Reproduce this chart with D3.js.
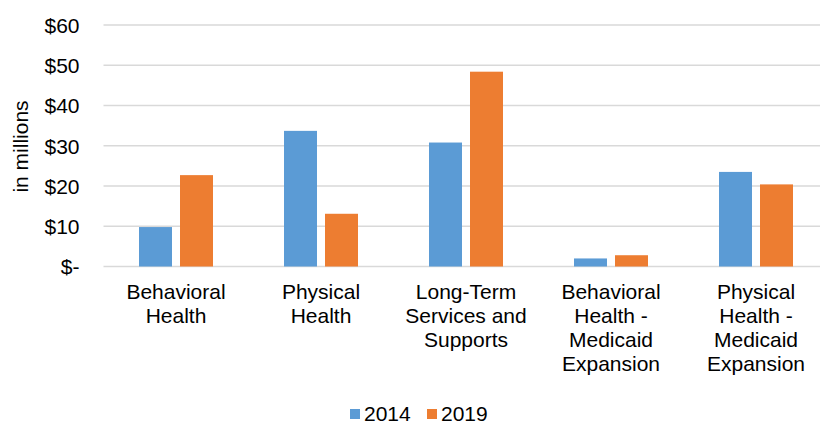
<!DOCTYPE html>
<html>
<head>
<meta charset="utf-8">
<script src="https://cdn.jsdelivr.net/npm/d3@7"></script>
<style>
  html, body { margin: 0; padding: 0; background: #fff; }
  svg { display: block; font-family: "Liberation Sans", Arial, sans-serif; }
</style>
</head>
<body>
<svg id="chart" width="820" height="424"></svg>
<script>
// Spending by program area, in millions of dollars
const categories = [
  ["Behavioral", "Health"],
  ["Physical", "Health"],
  ["Long-Term", "Services and", "Supports"],
  ["Behavioral", "Health -", "Medicaid", "Expansion"],
  ["Physical", "Health -", "Medicaid", "Expansion"]
];
const seriesNames = ["2014", "2019"];
const values2014 = [9.8, 33.7, 30.8, 2.0, 23.5];
const values2019 = [22.7, 13.1, 48.4, 2.8, 20.4];
const yTicks = [0, 10, 20, 30, 40, 50, 60];
const colors = ["#5B9BD5", "#ED7D31"];

const fontSize = 21;
const svg = d3.select("#chart");
const plotLeft = 103.5, plotRight = 828.5, plotTop = 25, plotBottom = 266.5;

const x = d3.scaleBand()
  .domain(d3.range(categories.length))
  .range([plotLeft, plotRight])
  .padding(0);

const inner = d3.scaleBand()
  .domain(seriesNames)
  .range([35.5, 109.5])
  .paddingInner(8 / 41)
  .paddingOuter(0);

const y = d3.scaleLinear().domain([0, 60]).range([plotBottom, plotTop]);

// Tick labels on the left
const yAxis = d3.axisLeft(y)
  .tickValues(yTicks)
  .tickSize(0)
  .tickPadding(0)
  .tickFormat(d => d === 0 ? "$-" : "$" + d);

const gAxis = svg.append("g")
  .attr("transform", `translate(${plotLeft},0)`)
  .call(yAxis);
gAxis.select(".domain").remove();
gAxis.selectAll("text")
  .attr("x", -24)
  .attr("dy", "0.35em")
  .attr("font-size", fontSize)
  .attr("font-family", "Liberation Sans, Arial, sans-serif")
  .attr("fill", "#000");

// Horizontal gridlines
svg.append("g")
  .selectAll("line")
  .data(yTicks)
  .join("line")
  .attr("x1", plotLeft)
  .attr("x2", 820)
  .attr("y1", d => y(d))
  .attr("y2", d => y(d))
  .attr("stroke", "#D9D9D9")
  .attr("stroke-width", 1.4);

// Bars
const rows = categories.map((c, i) => ({ i, vals: [values2014[i], values2019[i]] }));
const groups = svg.append("g")
  .selectAll("g")
  .data(rows)
  .join("g")
  .attr("transform", d => `translate(${x(d.i)},0)`);

groups.selectAll("rect")
  .data(d => d.vals.map((v, k) => ({ v, k })))
  .join("rect")
  .attr("x", d => inner(seriesNames[d.k]))
  .attr("width", inner.bandwidth())
  .attr("y", d => y(d.v))
  .attr("height", d => y(0) - y(d.v))
  .attr("fill", d => colors[d.k]);

// Category labels
const labels = svg.append("g")
  .selectAll("text")
  .data(categories)
  .join("text")
  .attr("text-anchor", "middle")
  .attr("font-size", fontSize)
  .attr("fill", "#000")
  .attr("transform", (d, i) => `translate(${x(i) + x.bandwidth() / 2},299)`);
labels.selectAll("tspan")
  .data(d => d)
  .join("tspan")
  .attr("x", 0)
  .attr("y", (d, k) => k * 24)
  .text(d => d);

// Axis title
svg.append("text")
  .attr("transform", "translate(28,146.5) rotate(-90)")
  .attr("text-anchor", "middle")
  .attr("font-size", fontSize)
  .attr("fill", "#000")
  .text("in millions");

// Legend
const legendX = [350, 427];
const legend = svg.append("g")
  .selectAll("g")
  .data(seriesNames)
  .join("g")
  .attr("transform", (d, i) => `translate(${legendX[i]},0)`);
legend.append("rect")
  .attr("x", 0).attr("y", 409)
  .attr("width", 10).attr("height", 10)
  .attr("fill", (d, i) => colors[i]);
legend.append("text")
  .attr("x", 14).attr("y", 421)
  .attr("font-size", fontSize)
  .attr("fill", "#000")
  .text(d => d);
</script>
</body>
</html>
